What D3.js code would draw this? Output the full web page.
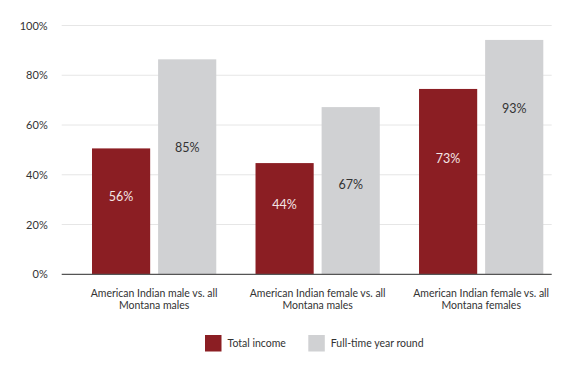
<!DOCTYPE html>
<html>
<head>
<meta charset="utf-8">
<script src="https://cdn.jsdelivr.net/npm/d3@7"></script>
<style>
  html, body { margin: 0; padding: 0; background: #fff; }
  svg { display: block; font-family: Lato, "Open Sans", sans-serif; }
</style>
</head>
<body>
<svg id="chart" width="570" height="365"></svg>
<script>
// ---- data ----
const categories = [
  ["American Indian male vs. all", "Montana males"],
  ["American Indian female vs. all", "Montana males"],
  ["American Indian female vs. all", "Montana females"]
];
const seriesNames = ["Total income", "Full-time year round"];
// bar heights as drawn in the picture (percent)
const totalIncome = [50.6, 44.7, 74.5];
const fullTime = [86.4, 67.2, 94.2];
// printed value labels
const totalIncomeLabels = ["56%", "44%", "73%"];
const fullTimeLabels = ["85%", "67%", "93%"];
// level (percent) at which each value label sits
const totalIncomeLabelLevel = [31.2, 28.1, 46.3];
const fullTimeLabelLevel = [51.0, 36.2, 66.7];
const yTicks = [0, 20, 40, 60, 80, 100];

// ---- layout ----
const svg = d3.select("#chart");
const colors = { "Total income": "#8b1e23", "Full-time year round": "#d0d1d3" };
const plotLeft = 61.7, plotRight = 551.7;

const y = d3.scaleLinear().domain([0, 100]).range([274.3, 25.5]);
const catKeys = categories.map((c, i) => "c" + i);
const x0 = d3.scaleBand().domain(catKeys).range([92, 543.3]).paddingInner(0.24).paddingOuter(0);
const x1 = d3.scaleBand().domain(seriesNames).range([0, x0.bandwidth()]).paddingInner(0.12).paddingOuter(0);

// gridlines
const yAxis = d3.axisLeft(y).tickValues(yTicks).tickFormat(d => d + "%").tickSize(0).tickPadding(14);
const gAxis = svg.append("g").attr("transform", `translate(${plotLeft},0)`).call(yAxis);
gAxis.select(".domain").remove();
gAxis.selectAll("text").attr("font-size", 11).attr("fill", "#333").attr("font-family", "Lato, sans-serif");

svg.append("g").selectAll("line").data(yTicks.filter(d => d > 0)).join("line")
  .attr("x1", plotLeft).attr("x2", plotRight)
  .attr("y1", d => y(d)).attr("y2", d => y(d))
  .attr("stroke", "#e6e6e6").attr("stroke-width", 1);

// bars
const rows = categories.map((c, i) => ({
  key: catKeys[i],
  items: [
    { s: seriesNames[0], v: totalIncome[i], label: totalIncomeLabels[i], lv: totalIncomeLabelLevel[i] },
    { s: seriesNames[1], v: fullTime[i], label: fullTimeLabels[i], lv: fullTimeLabelLevel[i] }
  ]
}));

const groups = svg.append("g").selectAll("g").data(rows).join("g")
  .attr("transform", d => `translate(${x0(d.key)},0)`);

groups.selectAll("rect").data(d => d.items).join("rect")
  .attr("x", d => x1(d.s))
  .attr("width", x1.bandwidth())
  .attr("y", d => y(d.v))
  .attr("height", d => y(0) - y(d.v))
  .attr("fill", d => colors[d.s]);

groups.selectAll("text").data(d => d.items).join("text")
  .attr("x", d => x1(d.s) + x1.bandwidth() / 2)
  .attr("y", d => y(d.lv))
  .attr("dy", "0.35em")
  .attr("text-anchor", "middle")
  .attr("font-size", 12.5)
  .attr("fill", d => d.s === seriesNames[0] ? "#f3e6e6" : "#333")
  .text(d => d.label);

// baseline
svg.append("line")
  .attr("x1", plotLeft).attr("x2", plotRight)
  .attr("y1", y(0)).attr("y2", y(0))
  .attr("stroke", "#555").attr("stroke-width", 1.2);

// category labels
const cat = svg.append("g").selectAll("text").data(rows).join("text")
  .attr("x", d => x0(d.key) + x0.bandwidth() / 2)
  .attr("text-anchor", "middle")
  .attr("font-size", 10.5)
  .attr("fill", "#333");
cat.each(function(d, i) {
  const t = d3.select(this);
  categories[i].forEach((line, j) => {
    t.append("tspan").attr("x", x0(d.key) + x0.bandwidth() / 2)
      .attr("y", 293.3 + j * 12.4).attr("dy", "0.35em").text(line);
  });
});

// legend
const legendX = [205, 308.3];
const leg = svg.append("g").selectAll("g").data(seriesNames).join("g")
  .attr("transform", (d, i) => `translate(${legendX[i]},335)`);
leg.append("rect").attr("width", 16.5).attr("height", 16.5).attr("fill", d => colors[d]);
leg.append("text").attr("x", 22.5).attr("y", 8).attr("dy", "0.35em")
  .attr("font-size", 10.5).attr("fill", "#333").text(d => d);
</script>
</body>
</html>
